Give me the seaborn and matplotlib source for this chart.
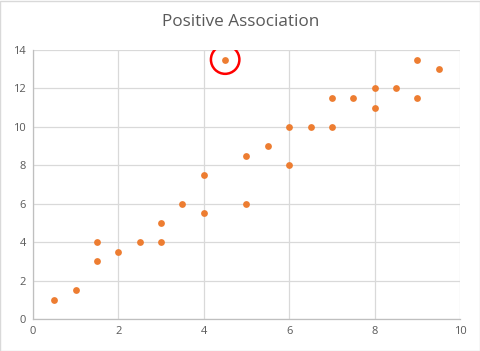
import matplotlib
matplotlib.use('Agg')
import matplotlib.pyplot as plt
import seaborn as sns
import pandas as pd

# data
x_vals = [0.5, 1, 1.5, 1.5, 2, 2.5, 3, 3, 3.5, 4, 4, 4.5, 5, 5, 5.5, 6, 6, 6.5, 7, 7, 7.5, 8, 8, 8.5, 9, 9, 9.5]
y_vals = [1, 1.5, 3, 4, 3.5, 4, 4, 5, 6, 5.5, 7.5, 13.5, 6, 8.5, 9, 8, 10, 10, 10, 11.5, 11.5, 11, 12, 12, 11.5, 13.5, 13]
outlier_x = [4.5]
outlier_y = [13.5]

df = pd.DataFrame({'x': x_vals, 'y': y_vals})

sns.set_style('white')
plt.rcParams['font.family'] = ['Open Sans', 'DejaVu Sans']

fig = plt.figure(figsize=(4.81, 3.51), dpi=100)
ax = fig.add_axes([33 / 481, 1 - 319 / 351, 427 / 481, 269 / 351])

sns.scatterplot(data=df, x='x', y='y', color='#ED7D31', s=24, linewidth=0, ax=ax, zorder=3)
ax.scatter(outlier_x, outlier_y, s=420, facecolors='none', edgecolors='#FF0000', linewidths=1.8, zorder=4)

ax.set_xlim(0, 10)
ax.set_ylim(0, 14)
ax.set_xticks(range(0, 11, 2))
ax.set_yticks(range(0, 15, 2))
ax.grid(True, color='#d9d9d9', linewidth=0.9)
ax.set_axisbelow(True)
ax.set_xlabel('')
ax.set_ylabel('')
for side in ['top', 'right']:
    ax.spines[side].set_visible(False)
for side in ['left', 'bottom']:
    ax.spines[side].set_color('#bfbfbf')
    ax.spines[side].set_linewidth(0.9)
ax.tick_params(axis='both', length=0, labelsize=8, labelcolor='#595959', pad=5)

fig.text(0.5, 1 - 22 / 351, 'Positive Association', ha='center', va='center', fontsize=12.3, color='#595959')

# light outer border
fig.patches.append(plt.Rectangle((0.001, 0.001), 0.996, 0.996, transform=fig.transFigure,
                                 fill=False, edgecolor='#d9d9d9', linewidth=1))

fig.savefig('out.png', dpi=100)
